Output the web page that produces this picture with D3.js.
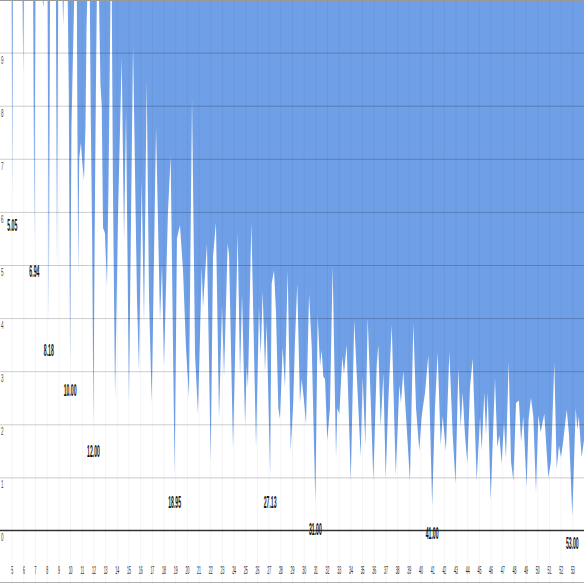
<!DOCTYPE html>
<html>
<head>
<meta charset="utf-8">
<script src="https://cdn.jsdelivr.net/npm/d3@7"></script>
<style>
  html, body { margin: 0; padding: 0; background: #fff; }
  svg { display: block; }
  text { font-family: "Liberation Sans", Arial, sans-serif; }
</style>
</head>
<body>
<svg id="chart" width="584" height="584"></svg>
<script>
// ---- data ----
const xValues = [
  5.00, 5.05, 5.10, 5.93, 5.99, 6.04, 6.84, 6.94, 7.03, 7.65,
  7.70, 7.75, 8.08, 8.18, 8.28, 8.79, 8.88, 8.98, 9.36, 9.41,
  9.46, 9.80, 9.89, 10.00, 10.12, 10.25, 10.35, 10.58, 10.63, 10.70,
  10.78, 10.93, 11.06, 11.19, 11.32, 11.41, 11.47, 11.69, 11.76, 11.89,
  12.00, 12.10, 12.22, 12.29, 12.48, 12.60, 12.71, 12.82, 12.99, 13.16,
  13.29, 13.46, 13.57, 13.67, 13.85, 14.10, 14.42, 14.62, 14.79, 15.04,
  15.39, 15.73, 15.90, 16.13, 16.33, 16.56, 16.76, 16.99, 17.36, 17.70,
  17.87, 18.04, 18.38, 18.61, 18.95, 19.15, 19.41, 19.67, 19.92, 20.18,
  20.44, 20.70, 20.95, 21.27, 21.38, 21.72, 22.04, 22.24, 22.49, 22.75,
  23.01, 23.18, 23.49, 23.61, 23.95, 24.35, 24.55, 24.72, 24.98, 25.12,
  25.23, 25.52, 25.92, 26.17, 26.32, 26.49, 26.69, 26.83, 27.13, 27.26,
  27.46, 27.63, 27.83, 27.97, 28.20, 28.40, 28.63, 28.89, 29.11, 29.26,
  29.45, 29.68, 29.83, 30.03, 30.20, 30.46, 30.69, 31.00, 31.20, 31.40,
  31.54, 31.68, 31.83, 32.02, 32.25, 32.48, 32.77, 32.88, 33.05, 33.31,
  33.45, 33.68, 34.03, 34.33, 34.54, 34.88, 35.05, 35.28, 35.48, 35.74,
  35.96, 36.25, 36.39, 36.59, 36.82, 37.02, 37.25, 37.54, 37.88, 38.19,
  38.33, 38.53, 38.76, 39.10, 39.39, 39.62, 39.90, 40.10, 40.39, 40.67,
  41.00, 41.24, 41.47, 41.73, 41.90, 42.18, 42.47, 42.76, 43.00, 43.24,
  43.44, 43.61, 43.81, 44.01, 44.24, 44.47, 44.81, 45.10, 45.24, 45.46,
  45.61, 45.76, 46.01, 46.38, 46.58, 46.75, 46.95, 47.15, 47.32, 47.55,
  47.75, 47.95, 48.18, 48.43, 48.61, 48.80, 49.09, 49.26, 49.46, 49.66,
  49.89, 50.09, 50.29, 50.60, 50.94, 51.17, 51.46, 51.66, 51.86, 52.03,
  52.23, 52.52, 52.72, 53.00, 53.29, 53.43, 53.55, 53.80, 54.00
];
const yValues = [
  11, 6.27, 11, 11, 8.6, 11, 11, 5.4, 11, 11,
  9.85, 11, 11, 3.9, 11, 11, 4.95, 11, 11, 9.5,
  11, 11, 8.2, 3.16, 7.6, 9.0, 11, 11, 7.5, 4.77,
  7.0, 7.3, 6.9, 6.6, 7.6, 9.5, 11, 11, 8.0, 5.5,
  2.0, 5.5, 8.5, 11, 11, 8.4, 8.0, 5.7, 5.6, 4.6,
  6.5, 11, 11, 6.5, 2.5, 5.9, 8.9, 5.45, 7.9, 2.45,
  9.15, 4.35, 3.0, 6.6, 3.9, 8.45, 4.35, 2.4, 7.6, 3.95,
  5.0, 3.1, 6.0, 7.05, 1.04, 5.5, 5.75, 4.9, 3.45, 2.5,
  8.15, 3.3, 2.2, 4.95, 4.2, 5.4, 1.33, 5.15, 5.8, 2.1,
  4.25, 2.9, 5.4, 5.2, 1.55, 5.6, 2.9, 4.45, 2.0, 3.1,
  2.7, 5.8, 1.57, 4.2, 3.3, 4.5, 3.0, 3.9, 1.04, 4.65,
  4.9, 4.1, 2.3, 2.1, 3.45, 2.7, 4.9, 1.5, 2.45, 3.6,
  4.65, 2.4, 2.85, 2.45, 2.0, 4.45, 3.45, 0.53, 4.05, 3.1,
  3.4, 2.9, 2.85, 1.7, 2.3, 4.97, 1.38, 2.3, 2.2, 3.27,
  2.95, 3.5, 0.94, 3.96, 2.95, 1.4, 2.9, 1.6, 4.0, 2.45,
  0.94, 3.1, 3.5, 1.95, 2.95, 1.0, 2.45, 3.87, 1.04, 2.74,
  2.4, 3.0, 2.15, 0.94, 3.9, 2.3, 1.5, 2.15, 2.6, 3.3,
  0.47, 2.3, 3.35, 1.6, 2.15, 1.5, 3.36, 1.8, 0.88, 3.05,
  1.95, 2.6, 1.8, 1.26, 2.7, 3.24, 0.94, 2.15, 1.5, 2.6,
  1.8, 2.6, 0.57, 2.87, 1.57, 1.8, 1.26, 2.05, 1.35, 3.18,
  1.3, 0.94, 2.4, 2.45, 1.67, 2.15, 0.83, 2.1, 2.5, 2.15,
  0.72, 2.17, 1.85, 2.2, 1.0, 1.3, 3.16, 1.16, 1.6, 1.38,
  1.7, 2.28, 1.8, 0.28, 2.3, 1.9, 2.15, 1.38, 1.7
];
const xTicks = [5, 6, 7, 8, 9, 10, 11, 12, 13, 14, 15, 16, 17, 18, 19, 20, 21, 22, 23, 24,
  25, 26, 27, 28, 29, 30, 31, 32, 33, 34, 35, 36, 37, 38, 39, 40, 41, 42, 43, 44,
  45, 46, 47, 48, 49, 50, 51, 52, 53];
const yTicks = [0, 1, 2, 3, 4, 5, 6, 7, 8, 9];
const yGrid = [1, 2, 3, 4, 5, 6, 7, 8, 9];
const annotatedX = [5.05, 6.94, 8.18, 10.00, 12.00, 18.95, 27.13, 31.00, 41.00, 53.00];

// ---- build ----
const W = 584, H = 584;
const data = xValues.map((x, i) => ({ x, y: yValues[i] }));

const x = d3.scaleLinear().domain([4, 54]).range([0, W]);
const y = d3.scaleLinear().domain([0, 10]).range([530.5, -0.5]).clamp(true);

const svg = d3.select("#chart");
svg.append("rect").attr("width", W).attr("height", H).attr("fill", "#fff");

// filled area: from the top of the plot down to the value
const area = d3.area()
  .x(d => x(d.x))
  .y0(y(10))
  .y1(d => y(d.y));
svg.append("path").datum(data)
  .attr("d", area)
  .attr("fill", "#6f9fe6");

// vertical light grid (via axis)
const vGrid = svg.append("g")
  .attr("transform", `translate(0,${H})`)
  .call(d3.axisTop(x).tickValues(xTicks).tickSize(H).tickFormat(""));
vGrid.select(".domain").remove();
vGrid.selectAll("line").attr("stroke", "rgba(0,0,0,0.045)");

// horizontal grid (via axis)
const hGrid = svg.append("g")
  .call(d3.axisRight(y).tickValues(yGrid).tickSize(W).tickFormat(""));
hGrid.select(".domain").remove();
hGrid.selectAll("line").attr("stroke", "rgba(0,0,0,0.2)");

// top and bottom frame lines
svg.append("line").attr("x1", 0).attr("x2", W).attr("y1", 0.5).attr("y2", 0.5)
  .attr("stroke", "#9a9a9a");
svg.append("line").attr("x1", 0).attr("x2", W).attr("y1", H - 1.5).attr("y2", H - 1.5)
  .attr("stroke", "#b0b0b0");

// zero baseline
svg.append("line").attr("x1", 0).attr("x2", W).attr("y1", y(0)).attr("y2", y(0))
  .attr("stroke", "#333").attr("stroke-width", 1.5);

// y axis labels
const yAxis = svg.append("g")
  .attr("transform", "translate(1,0)")
  .call(d3.axisRight(y).tickValues(yTicks).tickSize(0).tickPadding(0).tickFormat(d3.format("d")));
yAxis.select(".domain").remove();
yAxis.selectAll("text")
  .attr("text-anchor", "start")
  .attr("dy", "1.05em")
  .attr("transform", "scale(0.45,1)")
  .attr("font-size", 10)
  .attr("fill", "#444");

// x axis labels
const xAxis = svg.append("g")
  .attr("transform", "translate(0,567)")
  .call(d3.axisBottom(x).tickValues(xTicks).tickSize(0).tickPadding(0).tickFormat(d3.format("d")));
xAxis.select(".domain").remove();
xAxis.selectAll("text")
  .attr("transform", "scale(0.35,1)")
  .attr("font-size", 10)
  .attr("fill", "#222");

// annotations at the dips
const fmt = d3.format(".2f");
const annots = annotatedX.map(v => {
  const d = data.find(p => Math.abs(p.x - v) < 1e-6);
  return { x: v, y: d.y };
});
svg.append("g").selectAll("text").data(annots).join("text")
  .attr("transform", d => `translate(${x(d.x)},${y(d.y) + 33}) scale(0.32,1)`)
  .attr("text-anchor", "middle")
  .attr("font-size", 16)
  .attr("font-weight", "bold")
  .attr("fill", "#111")
  .text(d => fmt(d.x));
</script>
</body>
</html>
